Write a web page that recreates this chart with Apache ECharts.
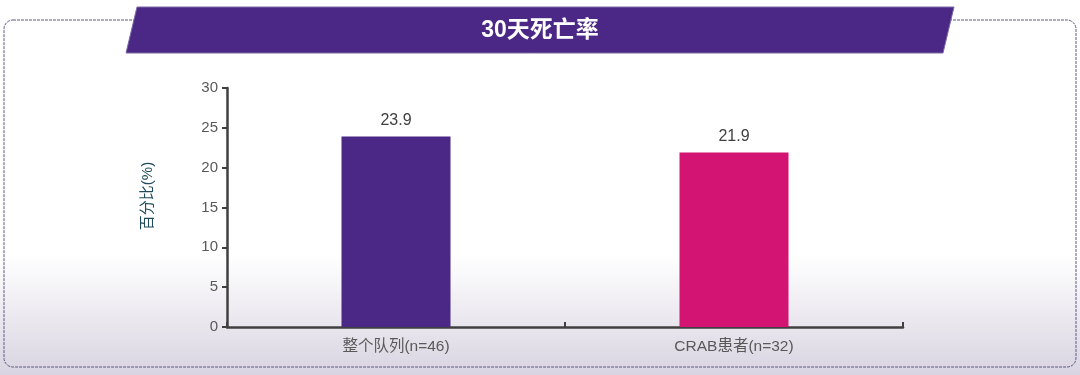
<!DOCTYPE html>
<html>
<head>
<meta charset="utf-8">
<script src="https://cdn.jsdelivr.net/npm/echarts@6/dist/echarts.min.js"></script>
<style>
html,body{margin:0;padding:0;background:#fff;}
#c{width:1080px;height:375px;}
</style>
</head>
<body>
<div id="c"></div>
<script>
const title = '30天死亡率';
const categories = ['整个队列(n=46)', 'CRAB患者(n=32)'];
const values = [23.9, 21.9];
const barColors = ['#4B2885', '#D41473'];
const yAxisName = '百分比(%)';
const yMax = 30;
const yInterval = 5;

const chart = echarts.init(document.getElementById('c'), null, {renderer: 'canvas'});
const font = '"Liberation Sans", Arial, "Noto Sans CJK SC", sans-serif';
chart.setOption({
  animation: false,
  backgroundColor: '#ffffff',
  graphic: [
    {
      type: 'rect', z: -10, silent: true,
      shape: {x: 0, y: 0, width: 1080, height: 375},
      style: {
        fill: new echarts.graphic.LinearGradient(0, 0, 0, 1, [
          {offset: 0, color: '#ffffff'},
          {offset: 0.68, color: '#ffffff'},
          {offset: 1, color: '#d9d4e1'}
        ])
      }
    },
    {
      type: 'rect', z: -5, silent: true,
      shape: {x: 4, y: 20, width: 1072, height: 347, r: 9},
      style: {fill: 'none', stroke: '#5e5880', lineWidth: 1, lineDash: [3, 1]}
    },
    {
      type: 'polygon', z: 5, silent: true,
      shape: {points: [[137, 7], [954, 7], [943, 53], [126, 53]]},
      style: {fill: '#4B2885', stroke: '#7d6aa5', lineWidth: 1}
    },
    {
      type: 'text', z: 6, silent: true,
      x: 540, y: 31,
      style: {
        text: title, fill: '#ffffff', font: 'bold 23px ' + font,
        align: 'center', verticalAlign: 'middle'
      }
    },
    {
      type: 'text', z: 6, silent: true,
      x: 148, y: 196, rotation: Math.PI / 2,
      style: {
        text: yAxisName, fill: '#1f4a5c', font: '15px ' + font,
        align: 'center', verticalAlign: 'middle'
      }
    }
  ],
  grid: {left: 227, right: 177, top: 88, bottom: 48, containLabel: false},
  xAxis: {
    type: 'category',
    data: categories,
    axisLine: {lineStyle: {color: '#404040', width: 2.5}},
    axisTick: {show: true, inside: true, length: 5, lineStyle: {color: '#404040', width: 2}},
    axisLabel: {color: '#595959', fontSize: 15.5, fontFamily: font, margin: 12}
  },
  yAxis: {
    type: 'value',
    min: 0, max: yMax, interval: yInterval,
    axisLine: {show: true, lineStyle: {color: '#404040', width: 2.5}},
    axisTick: {show: true, length: 5, lineStyle: {color: '#404040', width: 2}},
    axisLabel: {color: '#595959', fontSize: 15, fontFamily: font, margin: 9},
    splitLine: {show: false}
  },
  series: [{
    type: 'bar',
    barWidth: 109,
    data: values.map((v, i) => ({value: v, itemStyle: {color: barColors[i]}})),
    label: {show: true, position: 'top', distance: 8, color: '#404040', fontSize: 16, fontFamily: font,
      formatter: p => p.value.toFixed(1)}
  }]
});
</script>
</body>
</html>
